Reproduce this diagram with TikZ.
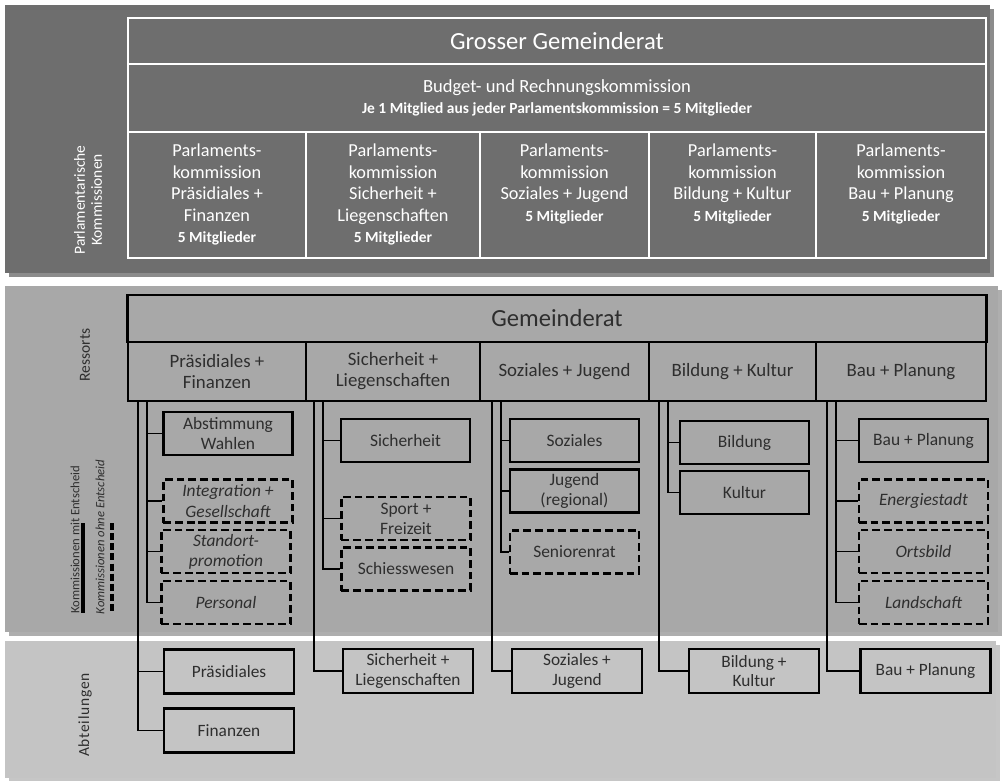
\documentclass[tikz,border=0pt]{standalone}
\usepackage{fontspec}
\setmainfont{Carlito}
\usetikzlibrary{positioning}

\definecolor{dunkelgrau}{HTML}{6E6E6E}
\definecolor{mittelgrau}{HTML}{A8A8A8}
\definecolor{hellgrau}{HTML}{C4C4C4}
\definecolor{schrift}{HTML}{2E2E2E}
\definecolor{schatten}{HTML}{8C8C8C}

\newcommand{\mitgl}{\fontsize{11}{15.2}\selectfont\bfseries}

\tikzset{
  weissbox/.style={draw=white, line width=1.6pt, outer sep=0pt, inner sep=0pt, text=white, align=center},
  weisstext/.style={text=white, align=center, inner sep=0pt, font=\fontsize{13}{15.2}\selectfont},
  schwarzbox/.style={draw=black, line width=2pt, outer sep=0pt, inner sep=0pt, text=schrift, align=center, font=\fontsize{13.4}{15}\selectfont},
  komm/.style={draw=black, line width=1.6pt, minimum width=3.225cm, minimum height=1.075cm, inner sep=0pt, text=schrift, align=center, font=\fontsize{12.4}{14.3}\selectfont},
  kommdash/.style={komm, dash pattern=on 5.5pt off 2.8pt},
  kursiv/.style={font=\fontsize{12.4}{14.3}\selectfont\itshape},
  abt/.style={draw=black, line width=1.8pt, minimum width=3.25cm, minimum height=1.1cm, inner sep=0pt, text=schrift, align=center, font=\fontsize{12.3}{13.8}\selectfont},
  verb/.style={draw=black, line width=0.9pt},
  seite/.style={rotate=90, text=schrift, align=center, inner sep=0pt, font=\fontsize{11}{12}\selectfont}
}

\begin{document}
\begin{tikzpicture}[x=0.025cm, y=-0.025cm]
  \path[use as bounding box, fill=white] (0,0) rectangle (1007,782);

  % Hintergruende
  \fill[schatten] (9,9) rectangle (994,277);
  \fill[dunkelgrau] (5,5) rectangle (990,273);
  \fill[schatten!70] (9,290) rectangle (1002,636);
  \fill[mittelgrau] (5,286) rectangle (998,632);
  \fill[schatten!50] (9,645) rectangle (1000,781);
  \fill[hellgrau] (5,641) rectangle (996,778);

  % Parlamentarische Kommissionen
  \node[weissbox, minimum width=21.45cm, minimum height=1.15cm, font=\fontsize{17.5}{20}\selectfont] (ggr) at (557,41) {Grosser Gemeinderat};
  \node[weissbox, minimum width=21.45cm, minimum height=1.7cm, below=0pt of ggr, font=\fontsize{13.2}{14.5}\selectfont] (brk)
    {Budget- und Rechnungskommission\\{\fontsize{11}{13}\selectfont\bfseries Je 1 Mitglied aus jeder Parlamentskommission = 5 Mitglieder}};
  \foreach \n/\cx/\w/\name in {1/217/4.45/{Präsidiales +\\Finanzen}, 2/393/4.35/{Sicherheit +\\Liegenschaften},
      3/564.5/4.225/{Soziales + Jugend}, 4/732.5/4.175/{Bildung + Kultur}, 5/901/4.25/{Bau + Planung}}
  {
    \node[weissbox, minimum width=\w cm, minimum height=3.15cm] (pk\n) at (\cx,195) {};
    \node[weisstext, anchor=north] (pkt\n) at (\cx,144) {Parlaments-\\kommission\\\name\\{\mitgl 5 Mitglieder}};
  }
  \node[seite, text=white] (lpk) at (88,200) {Parlamentarische\\Kommissionen};

  % Ressorts
  \node[schwarzbox, minimum width=21.45cm, minimum height=1.175cm, font=\fontsize{17.5}{20}\selectfont] (gr) at (557,318.5) {Gemeinderat};
  \foreach \n/\cx/\w/\name in {1/217/4.45/{Präsidiales +\\Finanzen}, 2/393/4.35/{Sicherheit +\\Liegenschaften},
      3/564.5/4.225/{Soziales + Jugend}, 4/732.5/4.175/{Bildung + Kultur}, 5/901/4.25/{Bau + Planung}}
  {
    \node[schwarzbox, minimum width=\w cm, minimum height=1.475cm] (r\n) at (\cx,371.5) {\name};
  }
  \node[seite] (lres) at (85,355) {Ressorts};
  \node[seite, font=\fontsize{9}{11}\selectfont] (lmit) at (75,540) {Kommissionen mit Entscheid};
  \node[seite, font=\fontsize{9}{11}\selectfont\itshape] (lohne) at (100,537) {Kommissionen ohne Entscheid};
  \coordinate (legA1) at (83,523);
  \coordinate (legA2) at (83,613);
  \coordinate (legB1) at (112,523);
  \coordinate (legB2) at (112,613);
  \draw[line width=2.2pt] (legA1) -- (legA2);
  \draw[line width=2.2pt, dash pattern=on 5pt off 2.2pt] (legB1) -- (legB2);

  % Kommissionen
  \node[komm] (k11) at (228,433.5) {Abstimmung\\Wahlen};
  \node[kommdash, kursiv] (k12) at (228,501) {Integration +\\Gesellschaft};
  \node[kommdash, kursiv] (k13) at (226,551.5) {Standort-\\promotion};
  \node[kommdash, kursiv] (k14) at (226,602.5) {Personal};

  \node[komm] (k21) at (405.5,440.5) {Sicherheit};
  \node[kommdash] (k22) at (406,518.5) {Sport +\\Freizeit};
  \node[kommdash] (k23) at (406,569) {Schiesswesen};

  \node[komm] (k31) at (574.5,440.5) {Soziales};
  \node[komm] (k32) at (574.5,491) {Jugend\\(regional)};
  \node[kommdash] (k33) at (574.5,552) {Seniorenrat};

  \node[komm] (k41) at (744.5,442.5) {Bildung};
  \node[komm] (k42) at (744.5,492.5) {Kultur};

  \node[komm] (k51) at (923.5,440.5) {Bau + Planung};
  \node[kommdash, kursiv] (k52) at (923.5,501) {Energiestadt};
  \node[kommdash, kursiv] (k53) at (923.5,551.5) {Ortsbild};
  \node[kommdash, kursiv] (k54) at (923.5,602.5) {Landschaft};

  % Abteilungen
  \node[abt] (a11) at (229,671.5) {Präsidiales};
  \node[abt] (a12) at (229,730.5) {Finanzen};
  \node[abt] (a21) at (408,671) {Sicherheit +\\Liegenschaften};
  \node[abt] (a31) at (577,671) {Soziales +\\Jugend};
  \node[abt] (a41) at (754,671) {Bildung +\\Kultur};
  \node[abt] (a51) at (925.5,671) {Bau + Planung};
  \node[seite, font=\fontsize{11}{12}\selectfont\addfontfeature{LetterSpace=5}] (labt) at (85,715) {Abteilungen};

  % Verbindungen
  \foreach \n/\lx in {1/138, 2/314, 3/492, 4/659, 5/827}
  {
    \coordinate (l\n) at (\lx,401);
    \coordinate (s\n) at (\lx+9,401);
  }
  \draw[verb] (s1) |- (k11.west);
  \draw[verb] (s1) |- (k12.west);
  \draw[verb] (s1) |- (k13.west);
  \draw[verb] (s1) |- (k14.west);
  \draw[verb] (s2) |- (k21.west);
  \draw[verb] (s2) |- (k22.west);
  \draw[verb] (s2) |- (k23.west);
  \draw[verb] (s3) |- (k31.west);
  \draw[verb] (s3) |- (k32.west);
  \draw[verb] (s3) |- (k33.west);
  \draw[verb] (s4) |- (k41.west);
  \draw[verb] (s4) |- (k42.west);
  \draw[verb] (s5) |- (k51.west);
  \draw[verb] (s5) |- (k52.west);
  \draw[verb] (s5) |- (k53.west);
  \draw[verb] (s5) |- (k54.west);

  \draw[verb] (l1) |- (a11.west);
  \draw[verb] (l1) |- (a12.west);
  \draw[verb] (l2) |- (a21.west);
  \draw[verb] (l3) |- (a31.west);
  \draw[verb] (l4) |- (a41.west);
  \draw[verb] (l5) |- (a51.west);
\end{tikzpicture}
\end{document}
